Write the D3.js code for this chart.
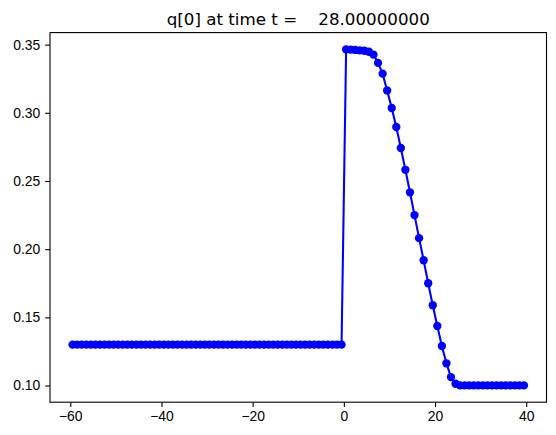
<!DOCTYPE html>
<html>
<head>
<meta charset="utf-8">
<script src="https://cdn.jsdelivr.net/npm/d3@7"></script>
<style>
  body { margin: 0; background: #fff; }
  svg { display: block; font-family: "DejaVu Sans", sans-serif; }
  .tick text { font-size: 13.9px; fill: #000; }
</style>
</head>
<body>
<svg id="chart" width="556" height="435"></svg>
<script>
// cell centres, dx = 1
var xLow = d3.range(-59.5, 0, 1);
var qLow = xLow.map(function() { return 0.13; });

var xHigh = [0.5, 1.5, 2.5, 3.5, 4.5, 5.5, 6.5, 7.5, 8.5, 9.5, 10.5, 11.5, 12.5,
             13.5, 14.5, 15.5, 16.5, 17.5, 18.5, 19.5, 20.5, 21.5, 22.5, 23.5, 24.5];
var qHigh = [0.3465, 0.3463, 0.3461, 0.3458, 0.3455, 0.3448, 0.3427, 0.3366, 0.3287,
             0.3164, 0.3035, 0.2896, 0.2742, 0.2582, 0.2417, 0.2250, 0.2081, 0.1919,
             0.1750, 0.1589, 0.1437, 0.1290, 0.1163, 0.1062, 0.1013];

var xRight = d3.range(25.5, 40, 1);
var qRight = xRight.map(function() { return 0.1001; });

var xTicks = [-60, -40, -20, 0, 20, 40];
var yTicks = [0.10, 0.15, 0.20, 0.25, 0.30, 0.35];
var titleText = "q[0] at time t =    28.00000000";

var xs = xLow.concat(xHigh, xRight);
var qs = qLow.concat(qHigh, qRight);
var data = xs.map(function(x, i) { return {x: x, q: qs[i]}; });

var svg = d3.select('#chart');
var margin = {top: 32.6, right: 9.5, bottom: 32.8, left: 50},
    width = +svg.attr('width') - margin.left - margin.right,
    height = +svg.attr('height') - margin.top - margin.bottom;

// matplotlib style 5% margins
function padded(ext) {
    var d = (ext[1] - ext[0]) * 0.05;
    return [ext[0] - d, ext[1] + d];
}

var x = d3.scaleLinear().domain(padded(d3.extent(data, d => d.x))).range([0, width]);
var y = d3.scaleLinear().domain(padded(d3.extent(data, d => d.q))).range([height, 0]);

var g = svg.append('g')
    .attr('transform', 'translate(' + margin.left + ',' + margin.top + ')');

var line = d3.line().x(d => x(d.x)).y(d => y(d.q));

g.append('path')
    .datum(data)
    .attr('fill', 'none')
    .attr('stroke', '#0000ff')
    .attr('stroke-width', 2.08)
    .attr('stroke-linejoin', 'round')
    .attr('d', line);

g.selectAll('.pt')
    .data(data)
  .enter().append('circle')
    .attr('class', 'pt')
    .attr('cx', d => x(d.x))
    .attr('cy', d => y(d.q))
    .attr('r', 4.17)
    .attr('fill', '#0000ff');

// axes
var xAxis = g.append('g')
    .attr('transform', 'translate(0,' + height + ')')
    .call(d3.axisBottom(x).tickValues(xTicks).tickSize(4.86).tickPadding(4.2)
        .tickFormat(d => d3.format('d')(d).replace('-', '\u2212')));
var yAxis = g.append('g')
    .call(d3.axisLeft(y).tickValues(yTicks).tickSize(4.86).tickPadding(4.9)
        .tickFormat(d3.format('.2f')));

[xAxis, yAxis].forEach(function(a) {
    a.select('.domain').remove();
    a.selectAll('.tick line').attr('stroke', '#000').attr('stroke-width', 1.1);
});

// frame
g.append('rect')
    .attr('width', width)
    .attr('height', height)
    .attr('fill', 'none')
    .attr('stroke', '#000')
    .attr('stroke-width', 1.1);

svg.append('text')
    .attr('x', margin.left + width / 2)
    .attr('y', 24.5)
    .attr('text-anchor', 'middle')
    .attr('font-size', 16.7)
    .style('white-space', 'pre')
    .text(titleText);
</script>
</body>
</html>
